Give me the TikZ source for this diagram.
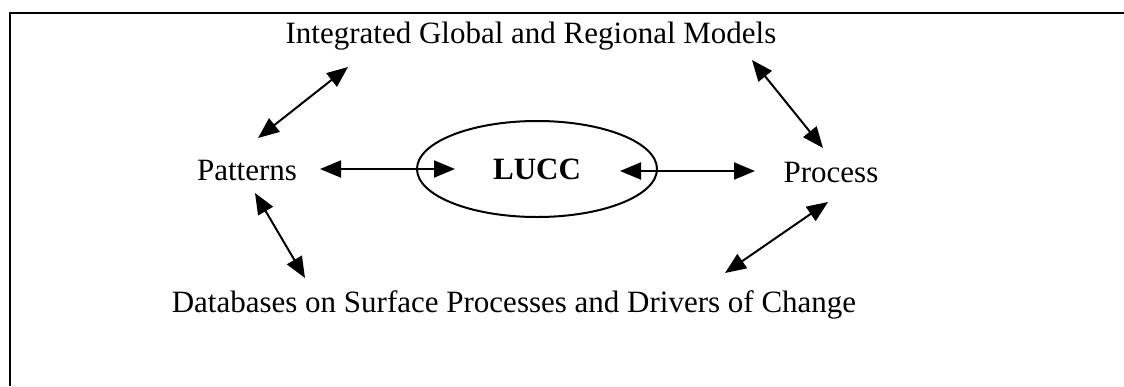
\documentclass[tikz,border=0pt]{standalone}
\usepackage{fontspec}
\setmainfont{Liberation Serif}
\usetikzlibrary{arrows.meta,shapes.geometric}
\tikzset{
  lbl/.style={font=\fontsize{15.5}{18}\selectfont, inner sep=0pt},
  link/.style={line width=1pt, {Triangle[length=10.5pt,width=8.5pt]}-{Triangle[length=10.5pt,width=8.5pt]}},
}
\begin{document}
\begin{tikzpicture}[x=0.5pt,y=-0.5pt]
\useasboundingbox (0,0) rectangle (1124,386);
% Rahmen
\draw[line width=1.1pt] (1124,13) -- (10,13) -- (10,386);
% Texte
\node[lbl, anchor=base] (models) at (531,43) {Integrated Global and Regional Models};
\node[lbl, anchor=base] (pat) at (247,180) {Patterns};
\node[lbl, anchor=base] (proc) at (831,182) {Process};
\node[lbl, anchor=base] (db) at (514,312) {Databases on Surface Processes and Drivers of Change};
% LUCC
\node[lbl, draw, line width=1pt, ellipse, minimum width=120pt, minimum height=48pt, font=\fontsize{15.5}{18}\selectfont\bfseries] (lucc) at (537,169) {LUCC};
% Pfeilenden
\coordinate (pl1) at (320,169);
\coordinate (pl2) at (455,169);
\coordinate (lp1) at (620,171);
\coordinate (lp2) at (755,171);
\coordinate (mp1) at (348,67);
\coordinate (mp2) at (258,138);
\coordinate (mr1) at (752,60);
\coordinate (mr2) at (823,148);
\coordinate (dp1) at (255,193);
\coordinate (dp2) at (305,278);
\coordinate (dr1) at (828,202);
\coordinate (dr2) at (725,273);
% Pfeile
\draw[link] (pl1) -- (pl2);
\draw[link] (lp1) -- (lp2);
\draw[link] (mp1) -- (mp2);
\draw[link] (mr1) -- (mr2);
\draw[link] (dp1) -- (dp2);
\draw[link] (dr1) -- (dr2);
\end{tikzpicture}
\end{document}
